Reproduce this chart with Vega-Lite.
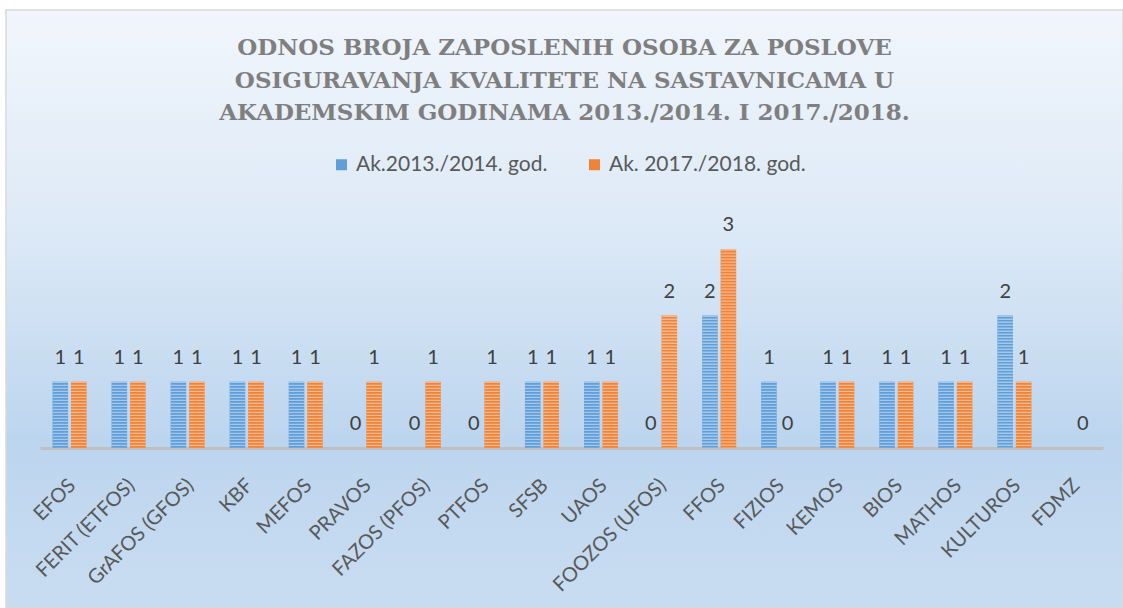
{
  "$schema": "https://vega.github.io/schema/vega-lite/v6.json",
  "width": 1117,
  "height": 598,
  "autosize": {"type": "none"},
  "padding": {"left": 6, "top": 10, "right": 0, "bottom": 0},
  "background": "white",
  "view": {
    "stroke": "#d9d9d9",
    "strokeWidth": 1.5,
    "fill": {
      "gradient": "linear",
      "x1": 0, "y1": 0, "x2": 0, "y2": 1,
      "stops": [
        {"offset": 0, "color": "#f1f6fc"},
        {"offset": 0.35, "color": "#deeaf7"},
        {"offset": 0.72, "color": "#bcd5ee"},
        {"offset": 1, "color": "#c9ddf1"}
      ]
    }
  },
  "title": {
    "text": [
      "ODNOS BROJA ZAPOSLENIH OSOBA ZA POSLOVE",
      "OSIGURAVANJA KVALITETE NA SASTAVNICAMA U",
      "AKADEMSKIM GODINAMA 2013./2014. I 2017./2018."
    ],
    "font": "DejaVu Serif",
    "fontSize": 23,
    "fontWeight": "bold",
    "color": "#7f7f7f",
    "lineHeight": 32.5,
    "anchor": "middle",
    "baseline": "top",
    "offset": -115,
    "frame": "group"
  },
  "data": {
    "values": [
      {"sastavnica": "EFOS", "godina": "Ak.2013./2014. god.", "broj": 1},
      {"sastavnica": "EFOS", "godina": "Ak. 2017./2018. god.", "broj": 1},
      {"sastavnica": "FERIT (ETFOS)", "godina": "Ak.2013./2014. god.", "broj": 1},
      {"sastavnica": "FERIT (ETFOS)", "godina": "Ak. 2017./2018. god.", "broj": 1},
      {"sastavnica": "GrAFOS (GFOS)", "godina": "Ak.2013./2014. god.", "broj": 1},
      {"sastavnica": "GrAFOS (GFOS)", "godina": "Ak. 2017./2018. god.", "broj": 1},
      {"sastavnica": "KBF", "godina": "Ak.2013./2014. god.", "broj": 1},
      {"sastavnica": "KBF", "godina": "Ak. 2017./2018. god.", "broj": 1},
      {"sastavnica": "MEFOS", "godina": "Ak.2013./2014. god.", "broj": 1},
      {"sastavnica": "MEFOS", "godina": "Ak. 2017./2018. god.", "broj": 1},
      {"sastavnica": "PRAVOS", "godina": "Ak.2013./2014. god.", "broj": 0},
      {"sastavnica": "PRAVOS", "godina": "Ak. 2017./2018. god.", "broj": 1},
      {"sastavnica": "FAZOS (PFOS)", "godina": "Ak.2013./2014. god.", "broj": 0},
      {"sastavnica": "FAZOS (PFOS)", "godina": "Ak. 2017./2018. god.", "broj": 1},
      {"sastavnica": "PTFOS", "godina": "Ak.2013./2014. god.", "broj": 0},
      {"sastavnica": "PTFOS", "godina": "Ak. 2017./2018. god.", "broj": 1},
      {"sastavnica": "SFSB", "godina": "Ak.2013./2014. god.", "broj": 1},
      {"sastavnica": "SFSB", "godina": "Ak. 2017./2018. god.", "broj": 1},
      {"sastavnica": "UAOS", "godina": "Ak.2013./2014. god.", "broj": 1},
      {"sastavnica": "UAOS", "godina": "Ak. 2017./2018. god.", "broj": 1},
      {"sastavnica": "FOOZOS (UFOS)", "godina": "Ak.2013./2014. god.", "broj": 0},
      {"sastavnica": "FOOZOS (UFOS)", "godina": "Ak. 2017./2018. god.", "broj": 2},
      {"sastavnica": "FFOS", "godina": "Ak.2013./2014. god.", "broj": 2},
      {"sastavnica": "FFOS", "godina": "Ak. 2017./2018. god.", "broj": 3},
      {"sastavnica": "FIZIOS", "godina": "Ak.2013./2014. god.", "broj": 1},
      {"sastavnica": "FIZIOS", "godina": "Ak. 2017./2018. god.", "broj": 0},
      {"sastavnica": "KEMOS", "godina": "Ak.2013./2014. god.", "broj": 1},
      {"sastavnica": "KEMOS", "godina": "Ak. 2017./2018. god.", "broj": 1},
      {"sastavnica": "BIOS", "godina": "Ak.2013./2014. god.", "broj": 1},
      {"sastavnica": "BIOS", "godina": "Ak. 2017./2018. god.", "broj": 1},
      {"sastavnica": "MATHOS", "godina": "Ak.2013./2014. god.", "broj": 1},
      {"sastavnica": "MATHOS", "godina": "Ak. 2017./2018. god.", "broj": 1},
      {"sastavnica": "KULTUROS", "godina": "Ak.2013./2014. god.", "broj": 2},
      {"sastavnica": "KULTUROS", "godina": "Ak. 2017./2018. god.", "broj": 1},
      {"sastavnica": "FDMZ", "godina": "Ak.2013./2014. god.", "broj": null},
      {"sastavnica": "FDMZ", "godina": "Ak. 2017./2018. god.", "broj": 0}
    ]
  },
  "encoding": {
    "x": {
      "field": "sastavnica",
      "type": "nominal",
      "sort": null,
      "scale": {"range": [34, 1097], "paddingInner": 0.424, "paddingOuter": 0.212},
      "axis": {
        "title": null,
        "offset": -160,
        "domainColor": "#bfbfbf",
        "domainWidth": 3,
        "ticks": false,
        "grid": false,
        "labelAngle": -45,
        "labelAlign": "right",
        "labelBaseline": "middle",
        "labelFont": "Lato",
        "labelFontSize": 20,
        "labelColor": "#595959",
        "labelPadding": 34,
        "labelOffset": 3,
        "labelOverlap": false,
        "labelBound": false,
        "labelLimit": 400
      }
    },
    "xOffset": {
      "field": "godina",
      "type": "nominal",
      "sort": ["Ak.2013./2014. god.", "Ak. 2017./2018. god."],
      "scale": {"paddingInner": 0.16, "paddingOuter": 0}
    },
    "y": {
      "field": "broj",
      "type": "quantitative",
      "scale": {"domain": [-2.417, 6.616], "nice": false, "zero": false},
      "axis": null
    }
  },
  "layer": [
    {
      "mark": {"type": "bar"},
      "encoding": {
        "y2": {"datum": 0},
        "color": {
          "field": "godina",
          "type": "nominal",
          "sort": ["Ak.2013./2014. god.", "Ak. 2017./2018. god."],
          "scale": {"range": ["#5f9ed8", "#ef8338"]},
          "legend": {
            "orient": "none",
            "legendX": 325,
            "legendY": 144,
            "direction": "horizontal",
            "title": null,
            "symbolType": "square",
            "symbolSize": 121,
            "symbolStrokeWidth": 0,
            "labelFont": "Lato",
            "labelFontSize": 21,
            "labelColor": "#595959",
            "labelLimit": 400,
            "columnPadding": 36,
            "labelOffset": 4,
            "padding": 0
          }
        }
      }
    },
    {
      "mark": {"type": "rule", "strokeWidth": 15.5, "strokeDash": [1.3, 1.7], "strokeCap": "butt"},
      "encoding": {
        "y2": {"datum": 0},
        "stroke": {
          "condition": {"test": "datum.godina === 'Ak.2013./2014. god.'", "value": "#a3c8ea"},
          "value": "#f8b88c"
        }
      }
    },
    {
      "mark": {"type": "text", "dy": -18, "baseline": "alphabetic", "font": "Lato", "fontSize": 20, "color": "#404040"},
      "encoding": {
        "text": {"field": "broj", "type": "quantitative"}
      }
    }
  ]
}
